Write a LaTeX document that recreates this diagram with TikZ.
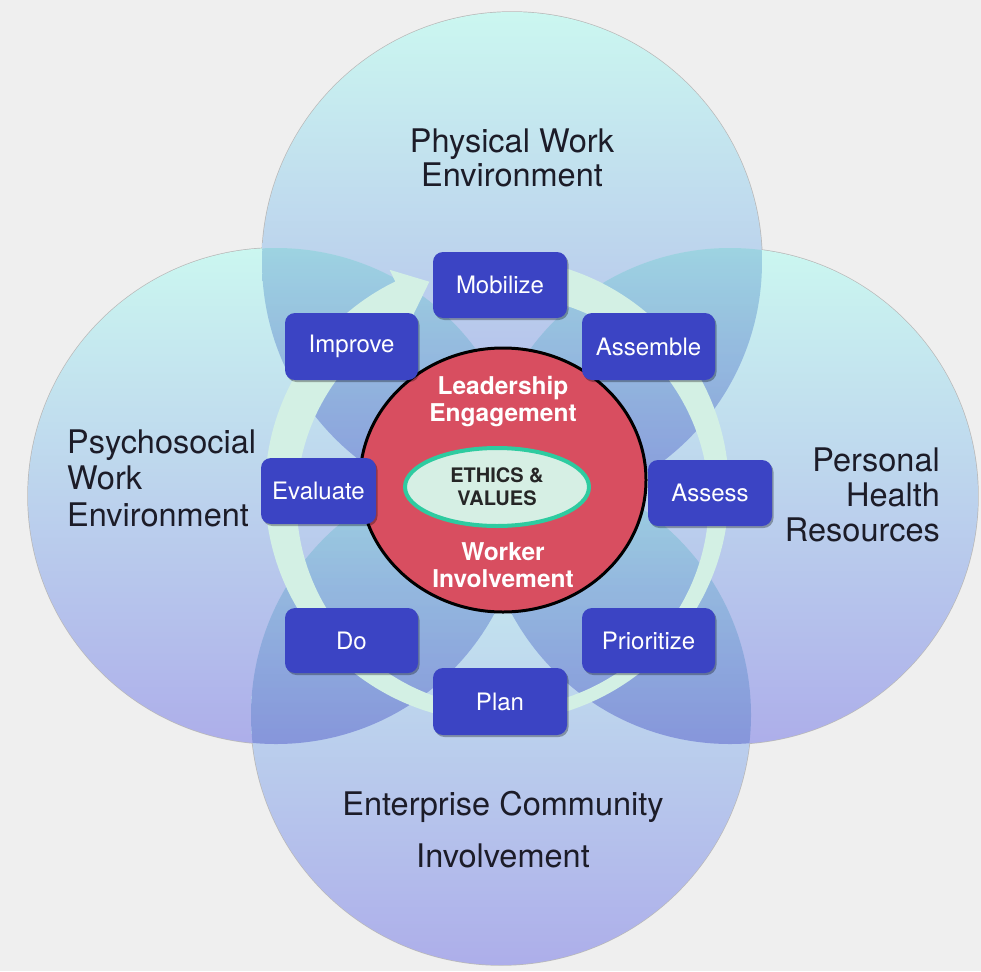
\documentclass[tikz,border=0pt]{standalone}
\usepackage{fontspec}
\setmainfont{TeX Gyre Heros}
\usetikzlibrary{shapes.geometric,shadows}

\definecolor{paper}{HTML}{EFEFEF}
\definecolor{discTop}{HTML}{CBF7F0}
\definecolor{discMid}{HTML}{BEDCEE}
\definecolor{discBot}{HTML}{ADAEEA}
\definecolor{ringMint}{HTML}{D3F0E4}
\definecolor{stepBlue}{HTML}{3B44C4}
\definecolor{coreRed}{HTML}{D84E60}
\definecolor{ethicsFill}{HTML}{D6EFE4}
\definecolor{ethicsRim}{HTML}{2ECBA0}
\definecolor{labelInk}{HTML}{1C1C28}

\begin{document}
\begin{tikzpicture}[x=1pt,y=-1pt,
  stepbox/.style={fill=stepBlue, rounded corners=10pt, inner sep=0pt,
    text=white, font=\fontsize{24}{26}\selectfont,
    drop shadow={shadow xshift=1.5pt, shadow yshift=-2pt, opacity=0.3, fill=black}},
  domainlabel/.style={text=labelInk, inner sep=0pt, font=\fontsize{32.5}{34}\selectfont},
  corelabel/.style={text=white, align=center, inner sep=0pt,
    font=\bfseries\fontsize{24.5}{27}\selectfont},
  disc/.style={top color=discTop, middle color=discMid, bottom color=discBot},
  overlap/.style={blend mode=multiply, opacity=.85}
]
% paper
\useasboundingbox (0,0) rectangle (981,971);
\fill[paper] (0,0) rectangle (981,971);

% soft rims of the four domains
\foreach \c/\r in {{(512,262)}/250, {(501,715)}/250, {(276,496)}/248, {(730,496)}/248}{
  \draw[gray!55, line width=1.4pt] \c circle (\r);
}

% domains, each one darkening the ones drawn before it where they overlap
\shade[disc] (512,262) circle (250);
\shade[disc] (276,496) circle (248);
\begin{scope}[overlap]
  \clip (276,496) circle (248);
  \shade[disc] (512,262) circle (250);
\end{scope}
\shade[disc] (730,496) circle (248);
\begin{scope}[overlap]
  \clip (730,496) circle (248);
  \shade[disc] (512,262) circle (250);
  \shade[disc] (276,496) circle (248);
\end{scope}
\shade[disc] (501,715) circle (250);
\begin{scope}[overlap]
  \clip (501,715) circle (250);
  \shade[disc] (512,262) circle (250);
  \shade[disc] (276,496) circle (248);
  \shade[disc] (730,496) circle (248);
\end{scope}

% domain labels
\node[domainlabel, align=center] (physical) at (512,158) {Physical Work\\Environment};
\node[domainlabel, align=left, anchor=west, font=\fontsize{32.5}{36.5}\selectfont] (psycho) at (67,478) {Psychosocial\\Work\\Environment};
\node[domainlabel, align=right, anchor=east, font=\fontsize{32.5}{35}\selectfont] (personal) at (940,495) {Personal\\Health\\Resources};
\node[domainlabel] (enterprise) at (503,807) {Enterprise Community};
\node[domainlabel] (involve) at (503,856) {Involvement};

% cycle arrow ring
\begin{scope}[shift={(497,490)}]
  \fill[ringMint] (-95:232) arc[start angle=-95, end angle=244, radius=232]
    -- (244:245) -- (252:219) -- (244:193)
    arc[start angle=244, end angle=-95, radius=206] -- cycle;
\end{scope}

% core
\node[ellipse, draw=black, line width=3pt, fill=coreRed,
  minimum width=286pt, minimum height=264pt, inner sep=0pt] (core) at (503,480) {};
\node[corelabel] (leader) at (503,402) {Leadership\\Engagement};
\node[corelabel] (worker) at (503,565) {Worker\\Involvement};
\node[ellipse, draw=ethicsRim, line width=4pt, fill=ethicsFill,
  minimum width=184pt, minimum height=78pt, inner sep=0pt, align=center,
  text=black!85, font=\bfseries\fontsize{20}{23}\selectfont] (ethics) at (497,487) {ETHICS \&\\VALUES};

% cycle steps
\node[stepbox, minimum width=134pt, minimum height=66pt] (mobilize) at (500,285) {Mobilize};
\node[stepbox, minimum width=133pt, minimum height=67pt] (improve) at (351.5,346.5) {Improve};
\node[stepbox, minimum width=133pt, minimum height=67pt] (assemble) at (648.5,346.5) {Assemble};
\node[stepbox, minimum width=115pt, minimum height=66pt] (evaluate) at (318.5,491) {Evaluate};
\node[stepbox, minimum width=124pt, minimum height=66pt] (assess) at (710,493) {Assess};
\node[stepbox, minimum width=133pt, minimum height=65pt] (do) at (351.5,640.5) {Do};
\node[stepbox, minimum width=133pt, minimum height=65pt] (prioritize) at (648.5,640.5) {Prioritize};
\node[stepbox, minimum width=134pt, minimum height=67pt] (plan) at (500,701.5) {Plan};
\end{tikzpicture}
\end{document}
